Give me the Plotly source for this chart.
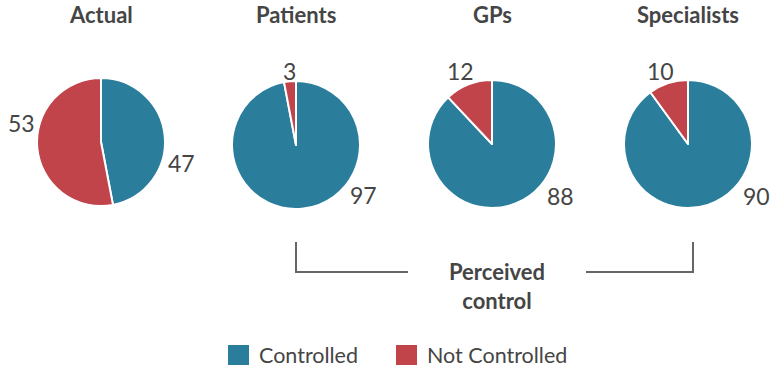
import plotly.graph_objects as go

W, H = 773, 378
groups = ["Actual", "Patients", "GPs", "Specialists"]
labels = ["Controlled", "Not Controlled"]
controlled = [47, 97, 88, 90]
not_controlled = [53, 3, 12, 10]
colors = ["#2A7E9C", "#C0444A"]
bracket_text = "Perceived<br>control"

# layout (pixels)
centers = [(101, 142), (296, 145), (492, 144), (688, 144)]
radius = 64
# label offsets (dx, dy) relative to pie centre: [controlled, not controlled]
label_offsets = [[(80, 21), (-80, -19)], [(67, 50), (-7, -74)],
                 [(68, 52), (-31, -73)], [(68, 52), (-28, -73)]]

def px(x):
    return x / W

def py(y):
    return 1 - y / H

fig = go.Figure()
TXT = "#454545"
FONT = "Lato, 'Open Sans', sans-serif"

def ann(x, y, text, size, xanchor="center"):
    return dict(x=px(x), y=py(y), xref="paper", yref="paper", text=text,
                showarrow=False, xanchor=xanchor, yanchor="middle",
                font=dict(size=size, color=TXT, family=FONT))

annotations = []
for i, g in enumerate(groups):
    cx, cy = centers[i]
    fig.add_trace(go.Pie(
        labels=labels, values=[controlled[i], not_controlled[i]],
        marker=dict(colors=colors, line=dict(color="white", width=2)),
        sort=False, direction="clockwise", rotation=0,
        textinfo="none", hoverinfo="label+value", showlegend=False,
        domain=dict(x=[px(cx - radius), px(cx + radius)],
                    y=[py(cy + radius), py(cy - radius)]),
    ))
    annotations.append(ann(cx, 15, "<b>%s</b>" % g, 22))
    for j, v in enumerate([controlled[i], not_controlled[i]]):
        dx, dy = label_offsets[i][j]
        annotations.append(ann(cx + dx, cy + dy, str(v), 23))

annotations.append(ann(497, 286, "<b>%s</b>" % bracket_text, 22))

line_style = dict(color="#666666", width=2)
shapes = [
    dict(type="path", xref="paper", yref="paper",
         path="M %f,%f L %f,%f L %f,%f" % (px(296), py(242), px(296), py(272), px(408), py(272)),
         line=line_style),
    dict(type="path", xref="paper", yref="paper",
         path="M %f,%f L %f,%f L %f,%f" % (px(586), py(272), px(693), py(272), px(693), py(242)),
         line=line_style),
]

# custom legend
leg_items = [(228, labels[0], colors[0]), (396, labels[1], colors[1])]
for x0, lab, col in leg_items:
    shapes.append(dict(type="rect", xref="paper", yref="paper",
                       x0=px(x0), x1=px(x0 + 21), y0=py(365), y1=py(345),
                       fillcolor=col, line=dict(width=0)))
    annotations.append(ann(x0 + 29, 355, lab, 21.5, xanchor="left"))

fig.update_layout(width=W, height=H, margin=dict(l=0, r=0, t=0, b=0),
                  paper_bgcolor="white", plot_bgcolor="white",
                  annotations=annotations, shapes=shapes,
                  font=dict(family=FONT))
fig.write_html("out.html", config={"displayModeBar": False},
               post_script="document.body.style.margin='0';")
